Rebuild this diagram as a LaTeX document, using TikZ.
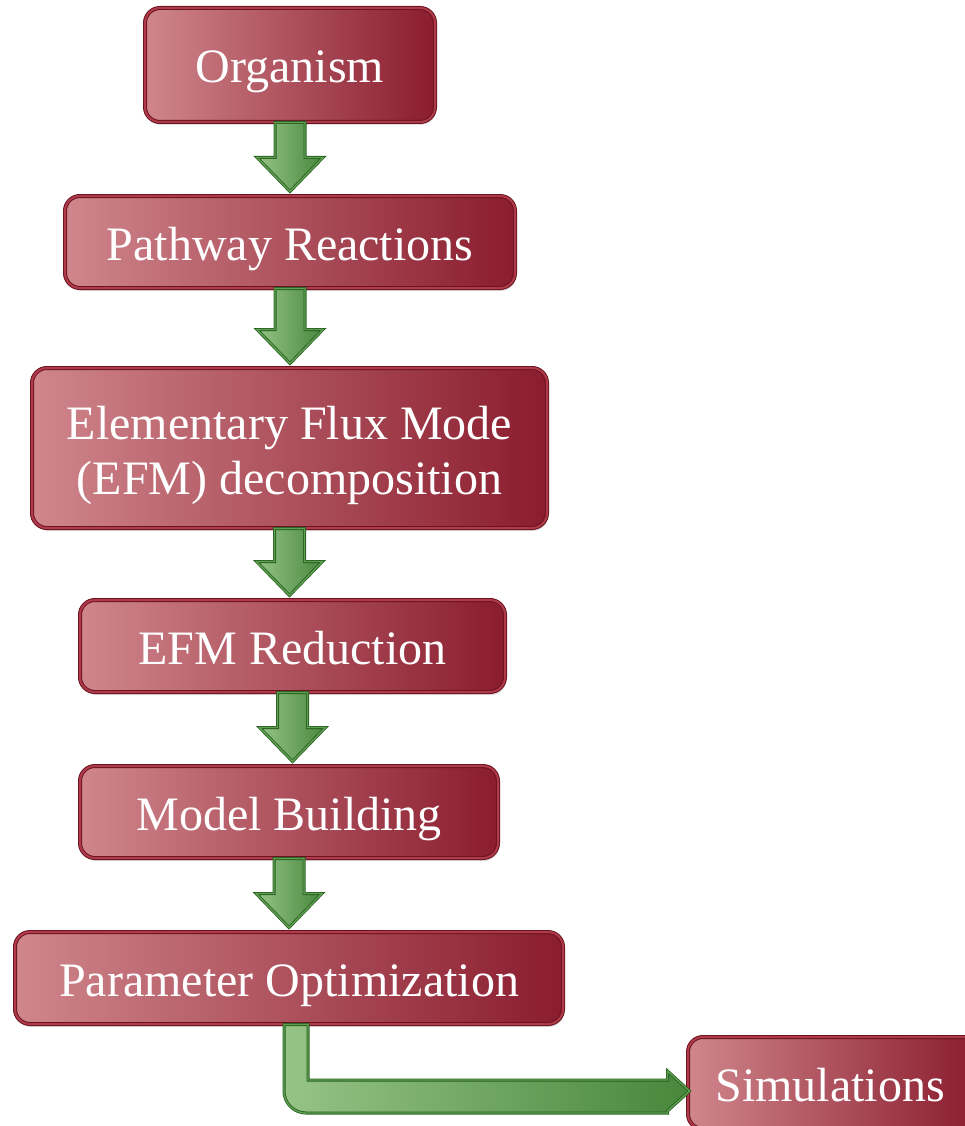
\documentclass[tikz,border=0pt]{standalone}
\usepackage{fontspec}
\setmainfont{Liberation Serif}
\usetikzlibrary{calc,shadows}

\definecolor{boxlight}{RGB}{208,134,140}
\definecolor{boxdark}{RGB}{138,28,46}
\definecolor{boxrim}{RGB}{176,58,74}
\definecolor{boxedge}{RGB}{105,20,32}
\definecolor{arrlight}{RGB}{150,196,135}
\definecolor{arrdark}{RGB}{72,135,60}
\definecolor{arrrim}{RGB}{95,160,80}
\definecolor{arredge}{RGB}{40,95,34}

\tikzset{
  stagebox/.style={
    rectangle, rounded corners=15pt,
    left color=boxlight, right color=boxdark,
    draw=boxedge, line width=1pt, double=boxrim, double distance=2pt,
    drop shadow={opacity=0.25, shadow xshift=1pt, shadow yshift=-3pt},
    text=white, align=center,
    font=\fontsize{48}{55}\selectfont, inner sep=0pt,
    text height=40pt, text depth=4pt
  },
  flowarrow/.style={
    left color=arrlight, right color=arrdark,
    draw=arredge, line width=0.8pt, double=arrrim, double distance=1.4pt,
    line join=miter
  }
}

% block arrow pointing down from the bottom of #1 to the top of #2
\newcommand{\stagearrow}[2]{%
  \path[flowarrow] let \p1=(#1.south), \p2=(#2.north) in
    (\x1-15pt,\y1) -- (\x1+15pt,\y1) -- (\x1+15pt,\y2+38pt)
    -- (\x1+33pt,\y2+38pt) -- (\x1,\y2+4pt) -- (\x1-33pt,\y2+38pt)
    -- (\x1-15pt,\y2+38pt) -- cycle;
}

\begin{document}
\begin{tikzpicture}[x=1pt,y=1pt]
  \useasboundingbox (0,0) rectangle (965,-1126);
  \clip (0,0) rectangle (965,-1126);

  \node[stagebox, minimum width=290, minimum height=114] (org)   at (290,-65)    {Organism};
  \node[stagebox, minimum width=450, minimum height=92]  (path)  at (290,-242)   {Pathway Reactions};
  \node[stagebox, minimum width=515, minimum height=160, text height=, text depth=] (efm) at (289.5,-448)
    {\rule{0pt}{49pt}Elementary Flux Mode\\(EFM) decomposition};
  \node[stagebox, minimum width=425, minimum height=92]  (red)   at (292.5,-646) {EFM Reduction};
  \node[stagebox, minimum width=418, minimum height=92]  (model) at (289,-812)   {Model Building};
  \node[stagebox, minimum width=548, minimum height=92]  (param) at (289,-978)   {Parameter Optimization};
  \node[stagebox, minimum width=290, minimum height=92]  (sim)   at (833,-1083)  {\hspace*{-6pt}Simulations};

  \stagearrow{org}{path}
  \stagearrow{path}{efm}
  \stagearrow{efm}{red}
  \stagearrow{red}{model}
  \stagearrow{model}{param}

  % bent arrow from the optimisation step to the simulations
  \path[flowarrow] let \p1=(param.south), \p2=(sim.west) in
    (\x1-5pt,\y1) -- (\x1-5pt,\y2-8pt)
    arc[start angle=180, end angle=270, radius=22pt]
    -- (\x2-20pt,\y2-30pt) -- (\x2-20pt,\y2-28pt)
    -- (\x2+2pt,\y2-8pt) -- (\x2-20pt,\y2+12pt) -- (\x2-20pt,\y2+3pt)
    -- (\x1+19pt,\y2+3pt) -- (\x1+19pt,\y1) -- cycle;
\end{tikzpicture}
\end{document}
